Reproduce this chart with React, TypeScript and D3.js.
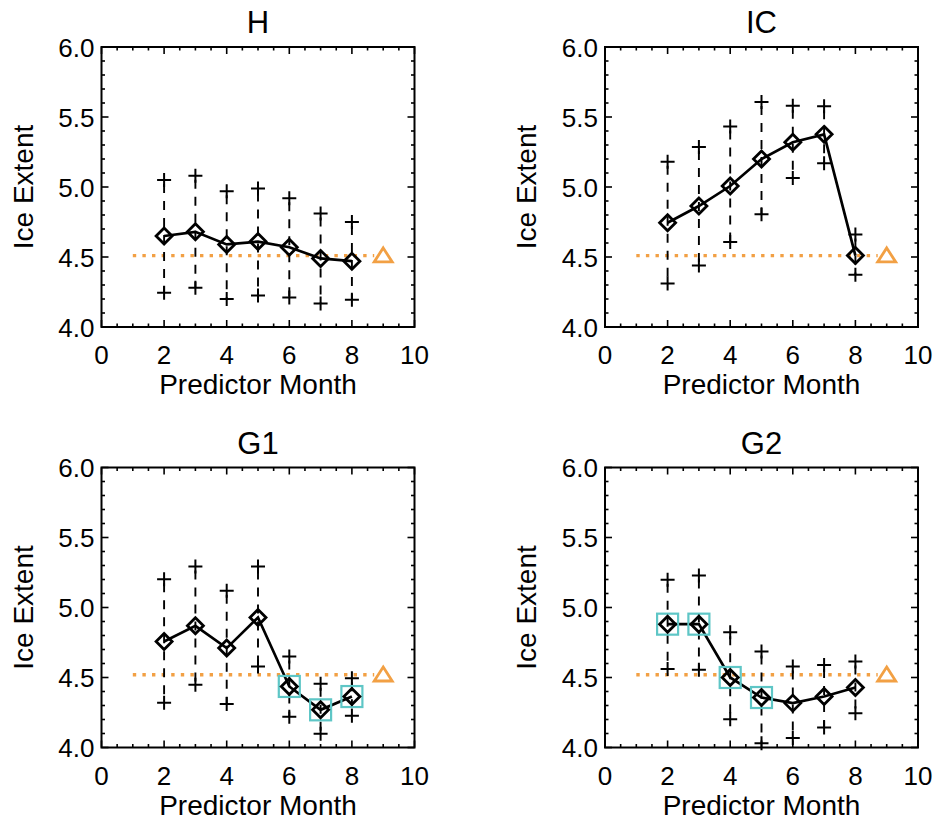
import React from "react";
import * as d3 from "d3";

// ---------- data ----------
const months = [2, 3, 4, 5, 6, 7, 8];
const panelTitles = ["H", "IC", "G1", "G2"];

const hMean = [4.65, 4.68, 4.59, 4.61, 4.57, 4.49, 4.47];
const hUpper = [5.05, 5.08, 4.97, 4.99, 4.92, 4.81, 4.75];
const hLower = [4.245, 4.28, 4.2, 4.225, 4.21, 4.167, 4.195];

const icMean = [4.745, 4.864, 5.007, 5.2, 5.32, 5.376, 4.51];
const icUpper = [5.18, 5.286, 5.433, 5.607, 5.58, 5.576, 4.66];
const icLower = [4.31, 4.44, 4.607, 4.805, 5.064, 5.17, 4.374];

const g1Mean = [4.757, 4.869, 4.71, 4.929, 4.436, 4.269, 4.364];
const g1Upper = [5.202, 5.293, 5.119, 5.293, 4.65, 4.455, 4.495];
const g1Lower = [4.32, 4.448, 4.31, 4.579, 4.22, 4.098, 4.226];

const g2Mean = [4.881, 4.881, 4.5, 4.357, 4.317, 4.364, 4.429];
const g2Upper = [5.198, 5.229, 4.824, 4.686, 4.579, 4.59, 4.614];
const g2Lower = [4.56, 4.555, 4.202, 4.031, 4.067, 4.143, 4.245];

const hHighlight: number[] = [];
const icHighlight: number[] = [];
const g1Highlight = [6, 7, 8];
const g2Highlight = [2, 3, 4, 5];

const refValues = [4.51, 4.51, 4.52, 4.52];
const refStartMonth = 1;
const refMonth = 9;

const xTicks = [0, 2, 4, 6, 8, 10];
const yTicks = [4.0, 4.5, 5.0, 5.5, 6.0];
const xTitle = "Predictor Month";
const yTitle = "Ice Extent";

// ---------- layout / style ----------
const W = 935;
const H = 820;
const PW = 313;
const PH = 280;
const origins: [number, number][] = [
  [101.5, 47],
  [605, 47],
  [101.5, 467.5],
  [605, 467.5],
];
const FONT = "'Liberation Sans', Arial, Helvetica, sans-serif";
const ORANGE = "#F2A044";
const CYAN = "#5EC6C6";

const series = [
  { mean: hMean, upper: hUpper, lower: hLower, hl: hHighlight },
  { mean: icMean, upper: icUpper, lower: icLower, hl: icHighlight },
  { mean: g1Mean, upper: g1Upper, lower: g1Lower, hl: g1Highlight },
  { mean: g2Mean, upper: g2Upper, lower: g2Lower, hl: g2Highlight },
];

function Panel({ idx }: { idx: number }) {
  const [ox, oy] = origins[idx];
  const s = series[idx];
  const x = d3.scaleLinear().domain([0, 10]).range([0, PW]);
  const y = d3.scaleLinear().domain([4, 6]).range([PH, 0]);
  const xMinor = d3.range(0, 10.001, 0.5);
  const yMinor = d3.range(40, 61).map((v) => v / 10);
  const isMajorX = (v: number) => Math.abs(v / 2 - Math.round(v / 2)) < 1e-6;
  const isMajorY = (v: number) => Math.abs(v * 2 - Math.round(v * 2)) < 1e-6;
  const line = d3
    .line<number>()
    .x((_, i) => x(months[i]))
    .y((d) => y(d));
  const ref = refValues[idx];
  const triSize = 9;
  const dm = 8;
  const pl = 7;
  return (
    <g transform={`translate(${ox},${oy})`}>
      {/* title */}
      <text
        x={PW / 2}
        y={-14}
        textAnchor="middle"
        fontSize={31}
        fontFamily={FONT}
        fill="#000"
      >
        {panelTitles[idx]}
      </text>
      {/* reference dotted line */}
      <line
        x1={x(refStartMonth)}
        x2={x(refMonth) - 9}
        y1={y(ref)}
        y2={y(ref)}
        stroke={ORANGE}
        strokeWidth={3.4}
        strokeDasharray="3.4 6.2"
      />
      {/* triangle */}
      <path
        d={`M${x(refMonth)},${y(ref) - triSize * 0.85} L${x(refMonth) + triSize},${
          y(ref) + triSize * 0.7
        } L${x(refMonth) - triSize},${y(ref) + triSize * 0.7} Z`}
        fill="none"
        stroke={ORANGE}
        strokeWidth={2.8}
        strokeLinejoin="miter"
      />
      {/* dashed vertical ranges */}
      {months.map((m, i) => (
        <line
          key={"v" + i}
          x1={x(m)}
          x2={x(m)}
          y1={y(s.upper[i])}
          y2={y(s.lower[i])}
          stroke="#000"
          strokeWidth={1.9}
          strokeDasharray="9 8"
          strokeDashoffset={-4}
        />
      ))}
      {/* plus signs */}
      {months.map((m, i) =>
        [s.upper[i], s.lower[i]].map((v, j) => (
          <path
            key={"p" + i + "_" + j}
            d={`M${x(m) - pl},${y(v)} H${x(m) + pl} M${x(m)},${y(v) - pl} V${
              y(v) + pl
            }`}
            stroke="#000"
            strokeWidth={2}
            fill="none"
          />
        ))
      )}
      {/* mean line */}
      <path
        d={line(s.mean) || ""}
        fill="none"
        stroke="#000"
        strokeWidth={2.7}
      />
      {/* highlight squares */}
      {months.map((m, i) =>
        s.hl.includes(m) ? (
          <rect
            key={"s" + i}
            x={x(m) - 10.5}
            y={y(s.mean[i]) - 10.5}
            width={21}
            height={21}
            fill="none"
            stroke={CYAN}
            strokeWidth={2.2}
          />
        ) : null
      )}
      {/* diamonds */}
      {months.map((m, i) => (
        <path
          key={"d" + i}
          d={`M${x(m)},${y(s.mean[i]) - dm} L${x(m) + dm},${y(s.mean[i])} L${x(
            m
          )},${y(s.mean[i]) + dm} L${x(m) - dm},${y(s.mean[i])} Z`}
          fill="none"
          stroke="#000"
          strokeWidth={2.8}
        />
      ))}
      {/* box */}
      <rect
        x={0}
        y={0}
        width={PW}
        height={PH}
        fill="none"
        stroke="#000"
        strokeWidth={2}
      />
      {/* x ticks (top and bottom) */}
      {xMinor.map((v, i) => {
        const len = isMajorX(v) ? 7 : 3.5;
        return (
          <g key={"xt" + i}>
            <line x1={x(v)} x2={x(v)} y1={PH} y2={PH - len} stroke="#000" strokeWidth={1.6} />
            <line x1={x(v)} x2={x(v)} y1={0} y2={len} stroke="#000" strokeWidth={1.6} />
          </g>
        );
      })}
      {/* y ticks (left and right) */}
      {yMinor.map((v, i) => {
        const len = isMajorY(v) ? 7 : 3.5;
        return (
          <g key={"yt" + i}>
            <line x1={0} x2={len} y1={y(v)} y2={y(v)} stroke="#000" strokeWidth={1.6} />
            <line x1={PW} x2={PW - len} y1={y(v)} y2={y(v)} stroke="#000" strokeWidth={1.6} />
          </g>
        );
      })}
      {/* x tick labels */}
      {xTicks.map((v) => (
        <text
          key={"xl" + v}
          x={x(v)}
          y={PH + 37}
          textAnchor="middle"
          fontSize={26}
          fontFamily={FONT}
          fill="#000"
        >
          {v}
        </text>
      ))}
      {/* y tick labels */}
      {yTicks.map((v) => (
        <text
          key={"yl" + v}
          x={-7}
          y={y(v) + 9.5}
          textAnchor="end"
          fontSize={26}
          fontFamily={FONT}
          fill="#000"
        >
          {v.toFixed(1)}
        </text>
      ))}
      {/* axis titles */}
      <text
        x={PW / 2}
        y={PH + 67}
        textAnchor="middle"
        fontSize={28}
        fontFamily={FONT}
        fill="#000"
      >
        {xTitle}
      </text>
      <text
        transform={`translate(${-69},${PH / 2}) rotate(-90)`}
        textAnchor="middle"
        fontSize={28}
        fontFamily={FONT}
        fill="#000"
      >
        {yTitle}
      </text>
    </g>
  );
}

export default function App() {
  return (
    <svg
      width={W}
      height={H}
      style={{ position: "absolute", left: 0, top: 0, background: "#fff" }}
    >
      <rect x={0} y={0} width={W} height={H} fill="#fff" />
      {panelTitles.map((_, i) => (
        <Panel key={i} idx={i} />
      ))}
    </svg>
  );
}
